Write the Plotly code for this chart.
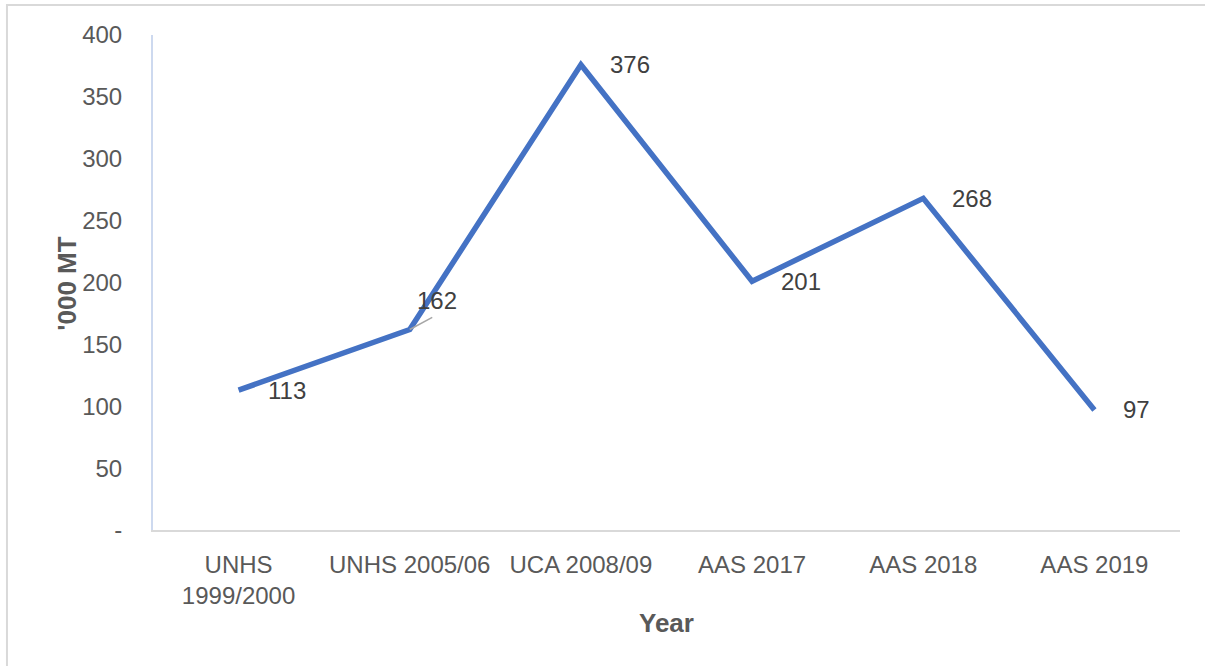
import plotly.graph_objects as go

categories = ["UNHS<br>1999/2000", "UNHS 2005/06", "UCA 2008/09", "AAS 2017", "AAS 2018", "AAS 2019"]
values = [113, 162, 376, 201, 268, 97]
y_tickvals = [0, 50, 100, 150, 200, 250, 300, 350, 400]
y_ticktext = ["-", "50", "100", "150", "200", "250", "300", "350", "400"]

FONT = "Liberation Sans, Arial, sans-serif"
TICK_COLOR = "#595959"
LABEL_COLOR = "#404040"

fig = go.Figure()
fig.add_trace(go.Scatter(
    x=categories, y=values, mode="lines",
    line=dict(color="#4472C4", width=5.5),
    hoverinfo="skip", showlegend=False,
))

annotations = []
for i, (c, v) in enumerate(zip(categories, values)):
    if i == 1:
        # leader line (Excel moved label)
        annotations.append(dict(
            x=c, y=v, xref="x", yref="y", text="",
            showarrow=True, arrowhead=0, arrowwidth=1.5, arrowcolor="#a6a6a6",
            ax=24, ay=-13, standoff=0,
        ))
        annotations.append(dict(
            x=c, y=v, xref="x", yref="y", text=str(v),
            showarrow=False, xanchor="center", yanchor="middle",
            xshift=27, yshift=29,
            font=dict(family=FONT, size=24, color=LABEL_COLOR),
        ))
    else:
        annotations.append(dict(
            x=c, y=v, xref="x", yref="y", text=str(v),
            showarrow=False, xanchor="left", yanchor="middle", xshift=27,
            font=dict(family=FONT, size=24, color=LABEL_COLOR),
        ))

annotations.append(dict(
    x=0.5, y=-0.188, xref="paper", yref="paper", text="<b>Year</b>",
    showarrow=False, xanchor="center", yanchor="middle",
    font=dict(family=FONT, size=26, color=TICK_COLOR),
))
annotations.append(dict(
    x=-0.084, y=0.497, xref="paper", yref="paper", text="<b>'000 MT</b>",
    showarrow=False, xanchor="center", yanchor="middle", textangle=-90,
    font=dict(family=FONT, size=26, color=TICK_COLOR),
))

fig.update_layout(
    width=1205, height=666,
    margin=dict(l=153, r=25, t=35, b=136),
    paper_bgcolor="white", plot_bgcolor="white",
    font=dict(family=FONT, size=24, color=TICK_COLOR),
    annotations=annotations,
    shapes=[dict(
        type="rect", xref="paper", yref="paper",
        x0=-0.1422, x1=1.05, y0=-0.3, y1=1.0606,
        line=dict(color="#d9d9d9", width=2), fillcolor="rgba(0,0,0,0)",
        layer="below",
    )],
)
fig.update_xaxes(
    type="category", showgrid=False, zeroline=False,
    showline=True, linecolor="#d9d9d9", linewidth=2,
    ticks="outside", ticklen=12, tickcolor="rgba(0,0,0,0)",
    tickfont=dict(family=FONT, size=24, color=TICK_COLOR),
    range=[-0.5, 5.5],
)
fig.update_yaxes(
    range=[0, 400], tickvals=y_tickvals, ticktext=y_ticktext,
    showgrid=False, zeroline=False,
    showline=True, linecolor="#cdd9ef", linewidth=2,
    ticks="outside", ticklen=24, tickcolor="rgba(0,0,0,0)",
    tickfont=dict(family=FONT, size=24, color=TICK_COLOR),
)

fig.write_html(
    "out.html",
    config={"displayModeBar": False},
    post_script="document.body.style.margin='0';document.body.style.padding='0';",
)
